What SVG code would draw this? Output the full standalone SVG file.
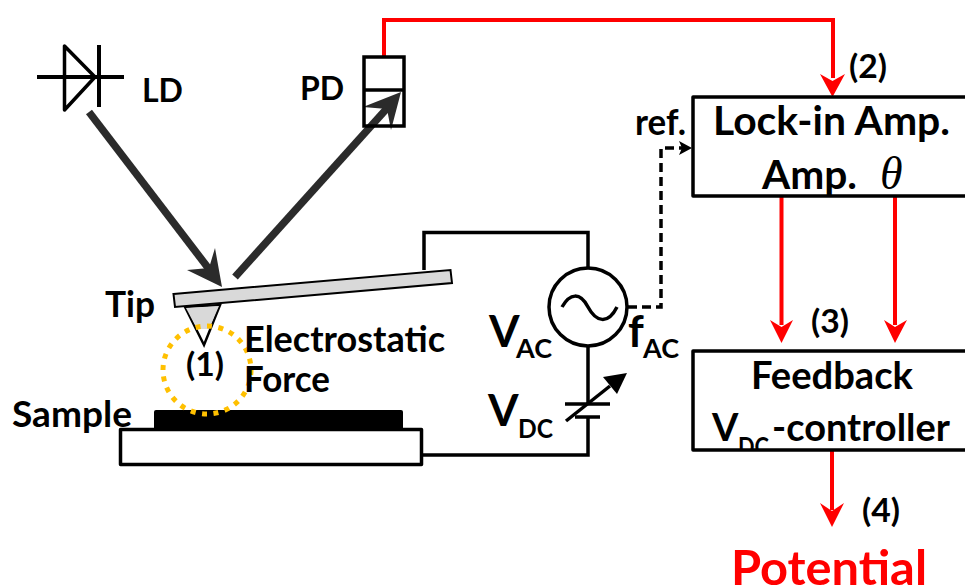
<svg xmlns="http://www.w3.org/2000/svg" width="965" height="588" viewBox="0 0 965 588">
<style>
text{font-family:Lato,"Liberation Sans",sans-serif;font-weight:700;fill:#000}
.s30{font-size:32px}.s36{font-size:36px}.s38{font-size:38px}.s40{font-size:41px}.v{font-size:44px}.sub{font-size:27px}
.wire{fill:none;stroke:#000;stroke-width:3.5}
.box{fill:#fff;stroke:#000;stroke-width:3.5;stroke-linejoin:round}
.red{fill:none;stroke:#f00;stroke-width:4}
.redhead{fill:#f00}
.beam{fill:none;stroke:#2b2b2b;stroke-width:7.5}
.beamhead{fill:#2b2b2b}
</style>
<defs><clipPath id="boxclip"><rect x="690" y="350" width="275" height="99"/></clipPath></defs>
<g id="sample"><rect x="154" y="410" width="249" height="20" rx="2" fill="#000"/><rect class="box" x="120.500" y="429.500" width="301" height="35"/><text class="s36" x="12" y="427" textLength="120" lengthAdjust="spacingAndGlyphs">Sample</text></g>
<g id="connectors">
<path class="wire" d="M424 270V232.500H588V268M588 346V404M588 418V455H422"/>
<path d="M628 307H661V148H682" fill="none" stroke="#000" stroke-width="3.500" stroke-dasharray="9 5"/>
<path d="M692 148L679 141L682 148L679 155Z" fill="#000"/>
<path class="red" d="M384 57V20H833V78"/><path class="redhead" d="M832.500 97L820 74L832.500 81L845 74Z"/>
<path class="red" d="M781.500 196V325"/><path class="redhead" d="M781.500 343L770 320L781.500 327L793 320Z"/>
<path class="red" d="M895 196V325"/><path class="redhead" d="M895 343L884 320L895 327L907 320Z"/>
<path class="red" d="M832 450V510"/><path class="redhead" d="M832 527L820 503L832 511L844 503Z"/>
<path class="beam" d="M89 112L212 273"/><path class="beamhead" d="M222 287L187 270L209 268L215 248Z"/>
<path class="beam" d="M235 277L390 105"/><path class="beamhead" d="M401 92L363 107L387 109L391 130Z"/>
</g>
<g id="ld"><path d="M37 77H124M99 45V107" fill="none" stroke="#000" stroke-width="4"/><path d="M64.500 46V110L95 77Z" fill="none" stroke="#000" stroke-width="3.500" stroke-linejoin="round"/><text class="s30" x="142" y="102">LD</text></g>
<g id="pd"><rect x="364" y="57" width="40" height="69" fill="none" stroke="#000" stroke-width="3.500"/><path d="M364 90H404" stroke="#000" stroke-width="3.500"/><text class="s30" x="300" y="100">PD</text></g>
<g id="tip"><path d="M185 307L220 305L204 345Z" fill="#fff" stroke="#000" stroke-width="2.500"/><path d="M186 308L219 306L209 329L197 329Z" fill="#d9d9d9"/><path d="M173.500 294L450.500 270L452 283L175 307Z" fill="#d9d9d9" stroke="#000" stroke-width="2"/><text class="s36" x="105" y="317" textLength="50" lengthAdjust="spacingAndGlyphs">Tip</text></g>
<g id="force"><circle cx="207" cy="370" r="44" fill="none" stroke="#ffc000" stroke-width="5" stroke-dasharray="5 6.500"/><text class="s30" x="186" y="376" textLength="38" lengthAdjust="spacingAndGlyphs">(1)</text><text class="s36" x="244" y="352" textLength="201" lengthAdjust="spacingAndGlyphs">Electrostatic</text><text class="s36" x="244" y="392" textLength="86" lengthAdjust="spacingAndGlyphs">Force</text></g>
<g id="vac"><circle cx="588" cy="307" r="39" fill="#fff" stroke="#000" stroke-width="3.500"/><path d="M562 307C570 293 580 292 588 307S608 325 617 307" fill="none" stroke="#000" stroke-width="3.500"/><text class="v" x="489" y="347">V</text><text class="sub" x="516" y="358" textLength="36" lengthAdjust="spacingAndGlyphs">AC</text><text class="v" x="628" y="347">f</text><text class="sub" x="643" y="358" textLength="36" lengthAdjust="spacingAndGlyphs">AC</text></g>
<g id="vdc"><path d="M565 404H610M575 417H600" stroke="#000" stroke-width="3.500"/><path d="M566 421L610 386" stroke="#000" stroke-width="3.500"/><path d="M627 373L603 377L617 394Z" fill="#000"/><text class="v" x="488" y="426">V</text><text class="sub" x="518" y="438" textLength="35" lengthAdjust="spacingAndGlyphs">DC</text></g>
<g id="lockin"><path class="box" d="M965 97H693V196H965"/><text class="s36" x="635" y="135" textLength="51" lengthAdjust="spacingAndGlyphs">ref.</text><text class="s40" x="713" y="135" textLength="237" lengthAdjust="spacingAndGlyphs">Lock-in Amp.</text><text class="s40" x="762" y="189" textLength="95" lengthAdjust="spacingAndGlyphs">Amp.</text><text x="880" y="189" style="font-family:'Liberation Serif',serif;font-style:italic;font-weight:400;font-size:46px">θ</text></g>
<g id="feedback"><path class="box" d="M965 351H693V450H965"/><text class="s38" x="751" y="389" textLength="162" lengthAdjust="spacingAndGlyphs">Feedback</text><text class="s38" x="712" y="441">V</text><text clip-path="url(#boxclip)" style="font-size:26px" x="738" y="456" textLength="31" lengthAdjust="spacingAndGlyphs">DC</text><text class="s38" x="772" y="441" textLength="178" lengthAdjust="spacingAndGlyphs">-controller</text></g>
<g id="labels"><text class="s30" x="849" y="78" textLength="38" lengthAdjust="spacingAndGlyphs">(2)</text><text class="s30" x="811" y="333" textLength="38" lengthAdjust="spacingAndGlyphs">(3)</text><text class="s30" x="862" y="522" textLength="38" lengthAdjust="spacingAndGlyphs">(4)</text><text x="731" y="585" textLength="196" lengthAdjust="spacingAndGlyphs" style="font-size:48px;fill:#f00">Potential</text></g>
</svg>
